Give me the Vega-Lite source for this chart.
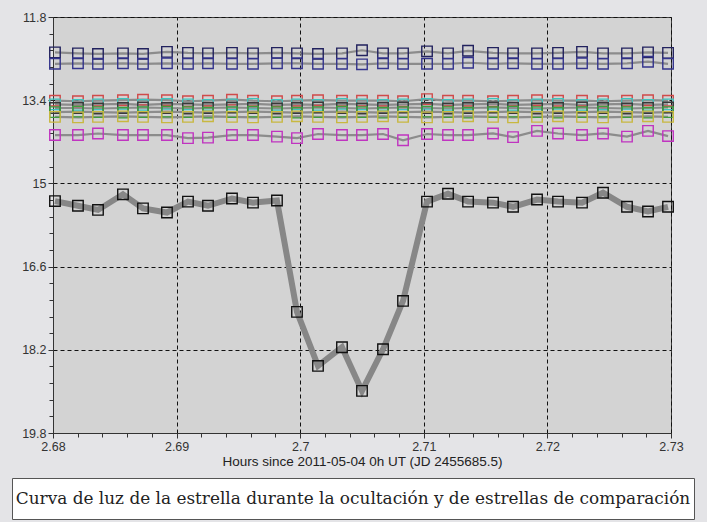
{
  "$schema": "https://vega.github.io/schema/vega-lite/v6.json",
  "background": "#e4e4e7",
  "padding": {"left": 11, "top": 10, "right": 14, "bottom": 3},
  "spacing": 8,
  "config": {
    "font": "Liberation Sans",
    "axis": {
      "labelFont": "Liberation Sans",
      "labelFontSize": 12.5,
      "labelColor": "#333333",
      "titleFont": "Liberation Sans",
      "titleFontSize": 13.5,
      "titleFontWeight": "normal",
      "titleColor": "#222222",
      "tickColor": "#333333",
      "domainColor": "#333333",
      "gridColor": "#111111",
      "gridDash": [4, 3],
      "labelFlush": false,
      "labelOverlap": false
    }
  },
  "datasets": {
    "lc": [
      {"t": 2.68016, "target": 15.34, "n1": 12.48, "n2": 12.70, "r": 13.41, "cy": 13.48, "dk": 13.55, "g": 13.63, "ye": 13.72, "mg": 14.07},
      {"t": 2.68202, "target": 15.43, "n1": 12.50, "n2": 12.69, "r": 13.42, "cy": 13.49, "dk": 13.55, "g": 13.62, "ye": 13.73, "mg": 14.07},
      {"t": 2.68364, "target": 15.51, "n1": 12.51, "n2": 12.70, "r": 13.41, "cy": 13.48, "dk": 13.56, "g": 13.63, "ye": 13.72, "mg": 14.04},
      {"t": 2.68566, "target": 15.21, "n1": 12.50, "n2": 12.69, "r": 13.40, "cy": 13.47, "dk": 13.55, "g": 13.64, "ye": 13.71, "mg": 14.07},
      {"t": 2.68728, "target": 15.48, "n1": 12.51, "n2": 12.70, "r": 13.39, "cy": 13.49, "dk": 13.54, "g": 13.63, "ye": 13.72, "mg": 14.07},
      {"t": 2.68922, "target": 15.56, "n1": 12.47, "n2": 12.69, "r": 13.40, "cy": 13.47, "dk": 13.55, "g": 13.62, "ye": 13.73, "mg": 14.07},
      {"t": 2.69092, "target": 15.35, "n1": 12.49, "n2": 12.70, "r": 13.42, "cy": 13.48, "dk": 13.56, "g": 13.63, "ye": 13.72, "mg": 14.13},
      {"t": 2.69254, "target": 15.43, "n1": 12.50, "n2": 12.69, "r": 13.41, "cy": 13.49, "dk": 13.55, "g": 13.64, "ye": 13.71, "mg": 14.12},
      {"t": 2.69448, "target": 15.29, "n1": 12.49, "n2": 12.70, "r": 13.39, "cy": 13.48, "dk": 13.54, "g": 13.63, "ye": 13.72, "mg": 14.07},
      {"t": 2.69618, "target": 15.37, "n1": 12.50, "n2": 12.70, "r": 13.41, "cy": 13.47, "dk": 13.55, "g": 13.62, "ye": 13.73, "mg": 14.07},
      {"t": 2.69812, "target": 15.33, "n1": 12.49, "n2": 12.69, "r": 13.42, "cy": 13.49, "dk": 13.56, "g": 13.63, "ye": 13.72, "mg": 14.10},
      {"t": 2.69974, "target": 17.47, "n1": 12.50, "n2": 12.69, "r": 13.41, "cy": 13.48, "dk": 13.55, "g": 13.64, "ye": 13.71, "mg": 14.13},
      {"t": 2.70144, "target": 18.51, "n1": 12.51, "n2": 12.70, "r": 13.40, "cy": 13.49, "dk": 13.54, "g": 13.63, "ye": 13.72, "mg": 14.05},
      {"t": 2.70338, "target": 18.15, "n1": 12.50, "n2": 12.70, "r": 13.41, "cy": 13.47, "dk": 13.55, "g": 13.62, "ye": 13.73, "mg": 14.07},
      {"t": 2.70500, "target": 18.99, "n1": 12.44, "n2": 12.71, "r": 13.41, "cy": 13.48, "dk": 13.56, "g": 13.63, "ye": 13.72, "mg": 14.07},
      {"t": 2.70670, "target": 18.19, "n1": 12.50, "n2": 12.69, "r": 13.41, "cy": 13.49, "dk": 13.55, "g": 13.64, "ye": 13.71, "mg": 14.05},
      {"t": 2.70832, "target": 17.26, "n1": 12.50, "n2": 12.70, "r": 13.42, "cy": 13.48, "dk": 13.54, "g": 13.63, "ye": 13.72, "mg": 14.17},
      {"t": 2.71026, "target": 15.35, "n1": 12.46, "n2": 12.70, "r": 13.38, "cy": 13.47, "dk": 13.55, "g": 13.62, "ye": 13.73, "mg": 14.05},
      {"t": 2.71196, "target": 15.20, "n1": 12.50, "n2": 12.70, "r": 13.41, "cy": 13.49, "dk": 13.56, "g": 13.63, "ye": 13.72, "mg": 14.07},
      {"t": 2.71358, "target": 15.35, "n1": 12.45, "n2": 12.68, "r": 13.41, "cy": 13.48, "dk": 13.55, "g": 13.64, "ye": 13.71, "mg": 14.07},
      {"t": 2.71560, "target": 15.37, "n1": 12.49, "n2": 12.70, "r": 13.42, "cy": 13.47, "dk": 13.54, "g": 13.63, "ye": 13.72, "mg": 14.04},
      {"t": 2.71722, "target": 15.45, "n1": 12.50, "n2": 12.69, "r": 13.41, "cy": 13.49, "dk": 13.55, "g": 13.62, "ye": 13.73, "mg": 14.11},
      {"t": 2.71916, "target": 15.31, "n1": 12.50, "n2": 12.70, "r": 13.40, "cy": 13.48, "dk": 13.56, "g": 13.63, "ye": 13.72, "mg": 13.99},
      {"t": 2.72086, "target": 15.35, "n1": 12.49, "n2": 12.70, "r": 13.41, "cy": 13.47, "dk": 13.55, "g": 13.64, "ye": 13.71, "mg": 14.04},
      {"t": 2.72280, "target": 15.37, "n1": 12.47, "n2": 12.69, "r": 13.41, "cy": 13.49, "dk": 13.54, "g": 13.63, "ye": 13.72, "mg": 14.07},
      {"t": 2.72450, "target": 15.18, "n1": 12.50, "n2": 12.70, "r": 13.42, "cy": 13.48, "dk": 13.55, "g": 13.62, "ye": 13.73, "mg": 14.04},
      {"t": 2.72644, "target": 15.45, "n1": 12.50, "n2": 12.69, "r": 13.41, "cy": 13.47, "dk": 13.56, "g": 13.63, "ye": 13.72, "mg": 14.10},
      {"t": 2.72814, "target": 15.54, "n1": 12.48, "n2": 12.66, "r": 13.40, "cy": 13.49, "dk": 13.55, "g": 13.64, "ye": 13.71, "mg": 13.99},
      {"t": 2.72976, "target": 15.45, "n1": 12.49, "n2": 12.70, "r": 13.41, "cy": 13.48, "dk": 13.54, "g": 13.63, "ye": 13.72, "mg": 14.09}
    ]
  },
  "vconcat": [
    {
      "spacing": 0,
      "hconcat": [
        {
          "width": 1,
          "height": 416,
          "view": {"stroke": null, "fill": null},
          "data": {"values": [{"a": 1}]},
          "mark": {"type": "point", "size": 0, "strokeWidth": 0, "opacity": 0},
          "encoding": {}
        },
        {
          "width": 618,
          "height": 416,
          "view": {"fill": "#d3d3d3", "stroke": "#404040", "strokeWidth": 1},
          "data": {"name": "lc"},
          "transform": [
            {"fold": ["n1", "n2", "r", "cy", "dk", "g", "ye", "mg", "target"], "as": ["s", "m"]}
          ],
          "encoding": {
            "x": {"field": "t", "type": "quantitative",
                  "scale": {"domain": [2.68, 2.73], "nice": false, "zero": false},
                  "axis": {
                    "values": [2.68, 2.682, 2.684, 2.686, 2.688, 2.69, 2.692, 2.694, 2.696, 2.698, 2.7, 2.702, 2.704, 2.706, 2.708, 2.71, 2.712, 2.714, 2.716, 2.718, 2.72, 2.722, 2.724, 2.726, 2.728, 2.73],
                    "labelExpr": "abs(datum.value*100 - round(datum.value*100)) < 0.01 ? toString(round(datum.value*100)/100) : ''",
                    "grid": true,
                    "gridOpacity": {"condition": {"test": "abs(datum.value*100 - round(datum.value*100)) < 0.01", "value": 1}, "value": 0},
                    "tickSize": {"condition": {"test": "abs(datum.value*100 - round(datum.value*100)) < 0.01", "value": 5}, "value": 4},
                    "labelPadding": 2,
                    "title": "Hours since 2011-05-04 0h UT (JD 2455685.5)",
                    "titlePadding": 2
                  }},
            "y": {"field": "m", "type": "quantitative",
                  "scale": {"domain": [11.8, 19.8], "reverse": true, "nice": false, "zero": false},
                  "axis": {
                    "values": [11.8, 12.12, 12.44, 12.76, 13.08, 13.4, 13.72, 14.04, 14.36, 14.68, 15, 15.32, 15.64, 15.96, 16.28, 16.6, 16.92, 17.24, 17.56, 17.88, 18.2, 18.52, 18.84, 19.16, 19.48, 19.8],
                    "labelExpr": "abs((datum.value-11.8)/1.6 - round((datum.value-11.8)/1.6)) < 0.01 ? toString(round(datum.value*10)/10) : ''",
                    "grid": true,
                    "gridOpacity": {"condition": {"test": "abs((datum.value-11.8)/1.6 - round((datum.value-11.8)/1.6)) < 0.01", "value": 1}, "value": 0},
                    "tickSize": {"condition": {"test": "abs((datum.value-11.8)/1.6 - round((datum.value-11.8)/1.6)) < 0.01", "value": 5}, "value": 4},
                    "labelPadding": 2,
                    "minExtent": 39,
                    "title": null
                  }}
          },
          "layer": [
            {
              "transform": [{"filter": "datum.s != 'target'"}],
              "mark": {"type": "line", "color": "#8c8c8c", "strokeWidth": 2.2},
              "encoding": {"detail": {"field": "s"}}
            },
            {
              "transform": [{"filter": "datum.s == 'target'"}],
              "mark": {"type": "line", "color": "#878787", "strokeWidth": 6}
            },
            {
              "mark": {"type": "point", "shape": "square", "filled": false, "size": 110, "strokeWidth": 1.4, "opacity": 1},
              "encoding": {
                "color": {"field": "s", "type": "nominal", "legend": null,
                          "scale": {"domain": ["n1", "n2", "r", "cy", "dk", "g", "ye", "mg", "target"],
                                    "range": ["#22225e", "#34348c", "#d04a4a", "#3cc4bc", "#3a3a3a", "#3e9e3e", "#c8b840", "#c034c0", "#111111"]}}
              }
            }
          ]
        }
      ]
    },
    {
      "width": 682,
      "height": 41,
      "view": {"fill": "white", "stroke": "#555555", "strokeWidth": 1},
      "data": {"values": [{"c": "Curva de luz de la estrella durante la ocultación y de estrellas de comparación"}]},
      "mark": {"type": "text", "font": "DejaVu Serif", "fontSize": 16.9, "color": "#222222", "baseline": "middle"},
      "encoding": {"text": {"field": "c", "type": "nominal"}}
    }
  ]
}
